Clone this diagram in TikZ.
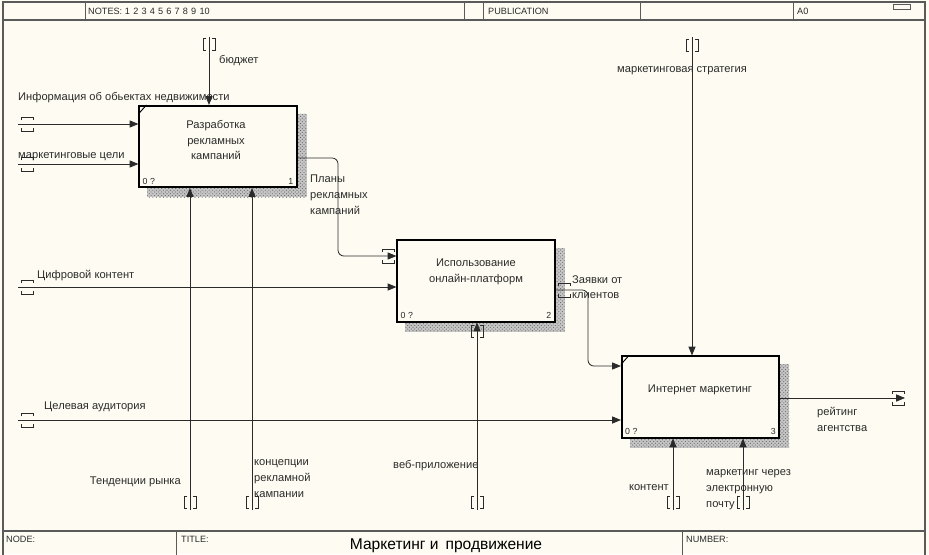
\documentclass[tikz,border=0pt]{standalone}
\usepackage{fontspec}
\setmainfont{Liberation Sans}
\usetikzlibrary{arrows.meta, patterns, backgrounds}
\definecolor{papel}{HTML}{FEFCF2}
\definecolor{tinta}{HTML}{2A2A2A}
\definecolor{moldura}{HTML}{5A5A5A}

\tikzset{
    tunelh/.pic={
        \draw[line width=0.5pt, tinta] (-6,-4) -- (-6,-7) -- (6,-7) -- (6,-4)
            (-6,4) -- (-6,7) -- (6,7) -- (6,4);
    },
    tunelv/.pic={
        \draw[line width=0.5pt, tinta] (-3,-6) -- (-6,-6) -- (-6,6) -- (-3,6)
            (3,-6) -- (6,-6) -- (6,6) -- (3,6);
    }
}

\begin{document}
\begin{tikzpicture}[
    x=0.03cm, y=-0.03cm,
    caixa/.style={
        rectangle, draw=black, line width=1.5pt, fill=papel,
        minimum width=4.72cm, minimum height=2.44cm, inner sep=0pt
    },
    titulo/.style={align=center, text=tinta, font=\fontsize{9.5}{13.6}\selectfont},
    seta/.style={-{Triangle[length=7.5pt, width=6pt]}, line width=0.7pt, draw=tinta},
    rotulo/.style={inner sep=0pt, align=left, text=tinta, font=\fontsize{9.5}{13.6}\selectfont},
    canto/.style={inner sep=0pt, text=tinta, font=\fontsize{7.5}{9}\selectfont},
    campo/.style={inner sep=0pt, anchor=west, text=tinta, font=\fontsize{7.8}{9}\selectfont},
    sombra/.style={preaction={fill=gray!45}, pattern=crosshatch dots, pattern color=black!60}
]
\useasboundingbox (0,0) rectangle (929,554);
\begin{scope}[on background layer]
    \fill[papel] (0,0) rectangle (929,554);
\end{scope}

% frame
\draw[moldura, line width=1.2pt] (3,560) -- (3,2) -- (925,2) -- (925,560);
\draw[moldura, line width=1pt] (3,20) -- (925,20);
\foreach \xp in {85, 464, 483, 640, 793}
    \draw[moldura, line width=0.8pt] (\xp,2) -- (\xp,20);
\draw[moldura, line width=0.6pt] (893,4) rectangle (910,9);
\node[campo] (notas) at (88,11) {NOTES:\hspace{0.3em}1\hspace{0.35em}2\hspace{0.35em}3\hspace{0.35em}4\hspace{0.35em}5\hspace{0.35em}6\hspace{0.35em}7\hspace{0.35em}8\hspace{0.35em}9\hspace{0.35em}10};
\node[campo] (publ) at (488,11) {PUBLICATION};
\node[campo] (folha) at (797,11) {A0};
\draw[moldura, line width=1pt] (3,531) -- (925,531);
\foreach \xp in {176, 682}
    \draw[moldura, line width=0.8pt] (\xp,531) -- (\xp,560);
\node[campo] (nodo) at (6,539) {NODE:};
\node[campo] (tit) at (181,539) {TITLE:};
\node[campo] (num) at (686,539) {NUMBER:};
\node[inner sep=0pt, text=black, font=\fontsize{13.3}{15}\selectfont] (nome) at (446,546) {Маркетинг и\, продвижение};

% activity boxes
\node[caixa] (b1) at (218,146.5) {};
\node[caixa] (b2) at (476,281) {};
\node[caixa] (b3) at (700.5,397) {};
\node[titulo] (t1) at (216,140) {Разработка\\рекламных\\кампаний};
\node[titulo] (t2) at (476,272) {Использование\\онлайн-платформ};
\node[titulo] (t3) at (700,390) {Интернет маркетинг};
\foreach \b/\n in {b1/1, b2/2, b3/3} {
    \node[canto, anchor=west] at ([shift={(4,-7)}]\b.south west) {0 ?};
    \node[canto, anchor=east] at ([shift={(-4,-7)}]\b.south east) {\n};
    \begin{scope}[on background layer]
        \path[sombra] ([shift={(9,9)}]\b.south west) rectangle ([shift={(9,9)}]\b.north east);
    \end{scope}
}
\draw[line width=0.8pt] ([shift={(0,9)}]b1.north west) -- ([shift={(8,0)}]b1.north west);
\draw[line width=0.8pt] ([shift={(0,9)}]b3.north west) -- ([shift={(8,0)}]b3.north west);

% boundary points
\coordinate (info) at (18,124);
\coordinate (metas) at (18,164);
\coordinate (orcam) at (209,37);
\coordinate (digit) at (18,287);
\coordinate (publico) at (18,420);
\coordinate (tend) at (190,510);
\coordinate (conc) at (252,510);
\coordinate (web) at (477,510);
\coordinate (estrat) at (692,37);
\coordinate (rating) at (905,398);
\coordinate (cont) at (673,510);
\coordinate (email) at (743,510);

% inputs
\draw[seta] (info) -- (info -| b1.west);
\draw[seta] (metas) -- (metas -| b1.west);
\draw[seta] (digit) -- (digit -| b2.west);
\draw[seta] (publico) -- (publico -| b3.west);
\draw[seta, rounded corners=5] (b1.east |- 0,158) -| (338,256) -- (b2.west |- 0,256);
\draw[seta, rounded corners=5] (b2.east |- 0,290) -| (588,366) -- (b3.west |- 0,366);
% controls
\draw[seta] (orcam) -- (orcam |- b1.north);
\draw[seta] (estrat) -- (estrat |- b3.north);
% mechanisms
\draw[seta] (tend) -- (tend |- b1.south);
\draw[seta] (conc) -- (conc |- b1.south);
\draw[seta] (web) -- (web |- b2.south);
\draw[seta] (cont) -- (cont |- b3.south);
\draw[seta] (email) -- (email |- b3.south);
% output
\draw[seta] (b3.east |- rating) -- (rating);

% tunnels
\foreach \yp in {124, 164, 287, 420}
    \pic at (27,\yp) {tunelh};
\pic at (388,256) {tunelh};
\pic at (564,290) {tunelh};
\pic at (898,398) {tunelh};
\pic at (209,44) {tunelv};
\pic at (692,45) {tunelv};
\pic at (477,331) {tunelv};
\foreach \xp in {190, 252, 477, 673, 743}
    \pic at (\xp,502) {tunelv};

% labels
\node[rotulo, anchor=west] (l_info) at (18,98) {Информация об обьектах недвижимости};
\node[rotulo, anchor=west] (l_metas) at (18,157) {маркетинговые цели};
\node[rotulo, anchor=west] (l_orcam) at (219,61) {бюджет};
\node[rotulo, anchor=west] (l_digit) at (37,276) {Цифровой контент};
\node[rotulo, anchor=west] (l_publico) at (44,407) {Целевая аудитория};
\node[rotulo, anchor=east] (l_tend) at (181,482) {Тенденции рынка};
\node[rotulo, anchor=north west] (l_conc) at (254,459) {концепции\\рекламной\\кампании};
\node[rotulo, anchor=west] (l_web) at (393,466) {веб-приложение};
\node[rotulo, anchor=north west] (l_planos) at (310,175) {Планы\\рекламных\\кампаний};
\node[rotulo, anchor=north west] (l_pedidos) at (572,275) {Заявки от\\клиентов};
\node[rotulo, anchor=west] (l_estrat) at (617,71) {маркетинговая стратегия};
\node[rotulo, anchor=north west] (l_rating) at (817,407) {рейтинг\\агентства};
\node[rotulo, anchor=east] (l_cont) at (669,488) {контент};
\node[rotulo, anchor=north west] (l_email) at (706,469) {маркетинг через\\электронную\\почту};
\end{tikzpicture}
\end{document}
